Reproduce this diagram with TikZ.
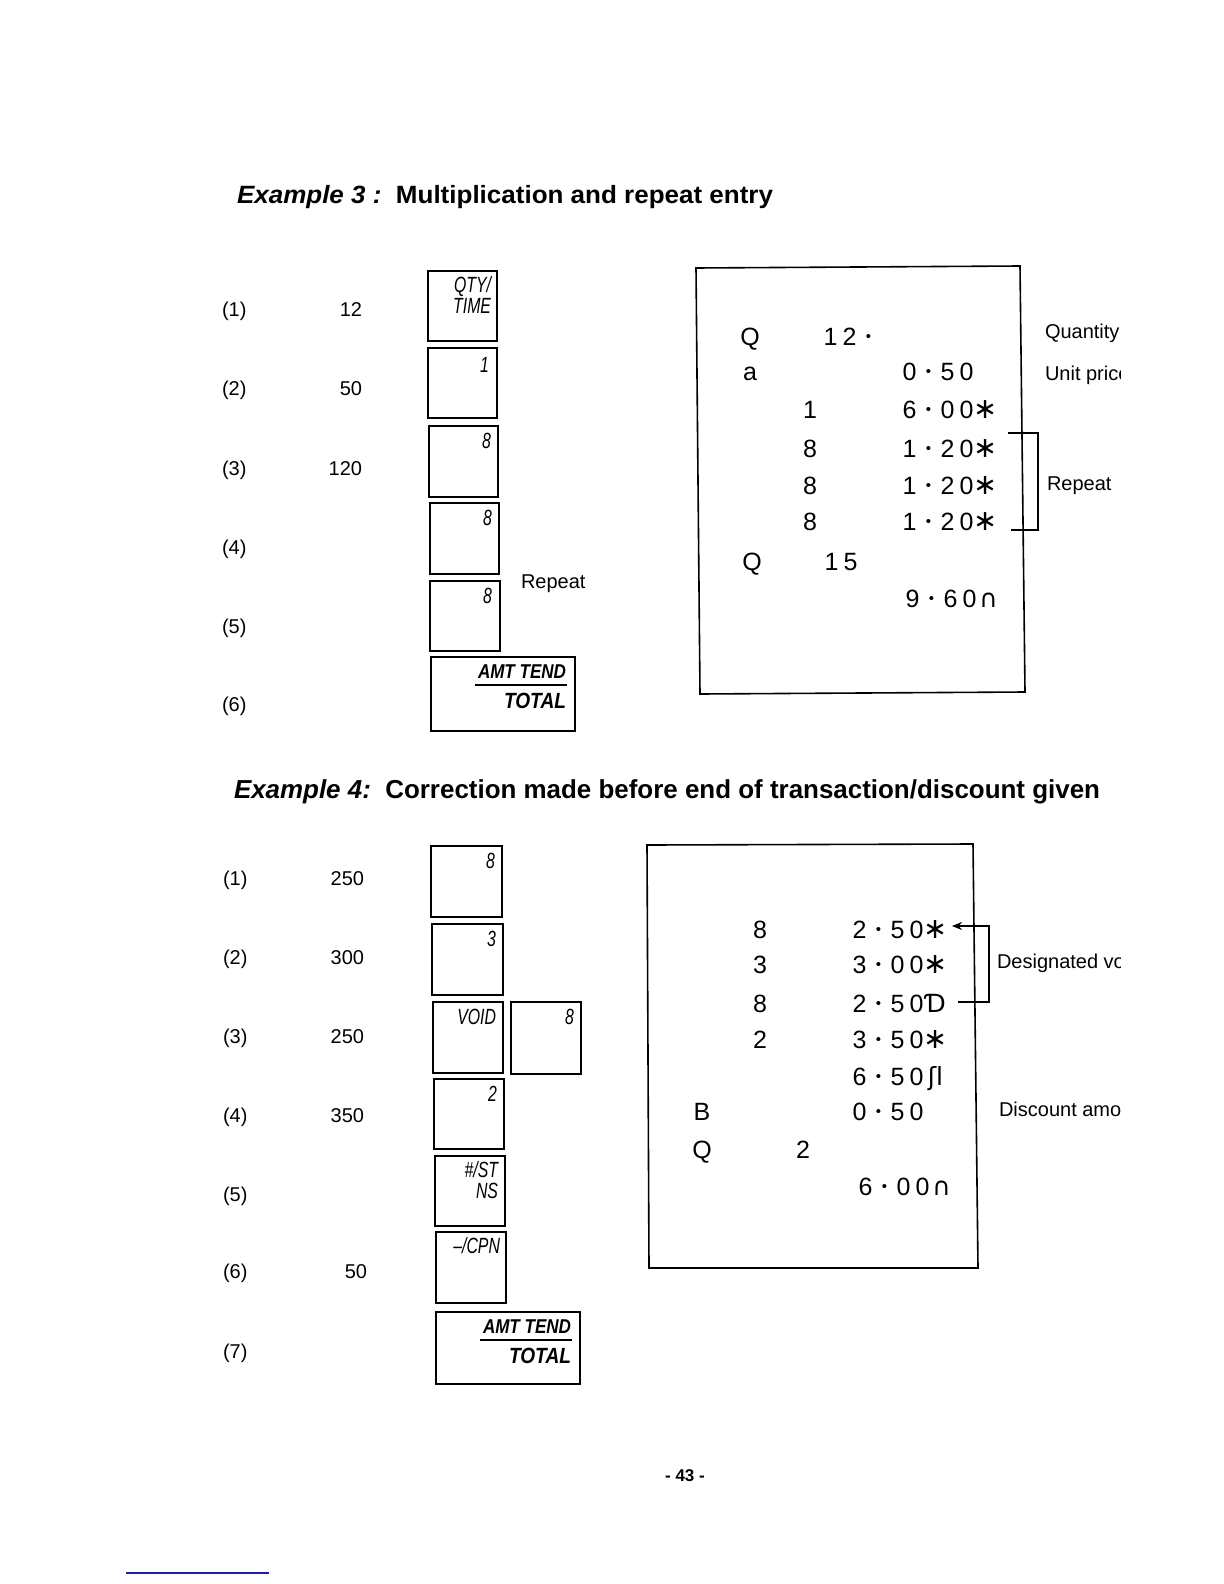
\documentclass[tikz,border=0pt]{standalone}
\usepackage{fontspec}
\setmainfont{Liberation Sans}
\newfontfamily\symf{DejaVu Sans}
\usetikzlibrary{arrows.meta}
\definecolor{lnk}{RGB}{30,30,160}
\def\rcloop#1{\ifx#1\relax\else\hbox to 9.5pt{\hss#1\hss}\expandafter\rcloop\fi}
\newcommand\rcs[1]{\rcloop#1\relax}
\newcommand\rdot{\raisebox{0.16em}{\scalebox{0.6}{•}}}
\newcommand\rast{{\symf\scalebox{1.15}{∗}}}
\newcommand\rtot{{\symf ∩}}
\newcommand\rvoid{{\symf Ɗ}}
\newcommand\rsub{{\symf ʃl}}
\newcommand\kt[1]{\scalebox{0.72}[1]{#1}}
\begin{document}
\begin{tikzpicture}[x=0.5pt,y=-0.5pt,
  every node/.style={inner sep=0pt, outer sep=0pt},
  keybox/.style={line width=1pt},
  rowlab/.style={font=\fontsize{10}{12}\selectfont, anchor=base west},
  num/.style={font=\fontsize{10}{12}\selectfont, anchor=base east},
  kl/.style={font=\fontsize{11}{13}\selectfont\itshape, anchor=base east},
  rc/.style={font=\fontsize{12.5}{15}\selectfont, anchor=base west},
  rcone/.style={font=\fontsize{12.5}{15}\selectfont, anchor=base},
  note/.style={font=\fontsize{10}{12}\selectfont, anchor=base west},
  paper/.style={line width=0.8pt},
  brk/.style={line width=0.6pt}]
\useasboundingbox (0,0) rectangle (1224,1584);

% ---------------- Example 3 ----------------
\node[anchor=base west] (h3) at (237,203) {\resizebox{268pt}{\height}{\fontsize{12.5}{15}\selectfont\bfseries\itshape Example 3 :\ \ \upshape Multiplication and repeat entry}};

\node[rowlab] (a1) at (222,316) {(1)};
\node[rowlab] (a2) at (222,395) {(2)};
\node[rowlab] (a3) at (222,475) {(3)};
\node[rowlab] (a4) at (222,554) {(4)};
\node[rowlab] (a5) at (222,633) {(5)};
\node[rowlab] (a6) at (222,711) {(6)};
\node[num] (n1) at (362,316) {12};
\node[num] (n2) at (362,395) {50};
\node[num] (n3) at (362,475) {120};

\draw[keybox] (428,271) rectangle (497,341);
\draw[keybox] (428,348) rectangle (497,418);
\draw[keybox] (429,426) rectangle (498,497);
\draw[keybox] (430,503) rectangle (499,574);
\draw[keybox] (430,581) rectangle (500,651);
\draw[keybox] (431,657) rectangle (575,731);
\node[kl] (k1a) at (491,292) {\kt{QTY/}};
\node[kl] (k1b) at (491,313) {\kt{TIME}};
\node[kl] (k2) at (489,372) {\kt{1}};
\node[kl] (k3) at (491,448) {\kt{8}};
\node[kl] (k4) at (492,525) {\kt{8}};
\node[kl] (k5) at (492,603) {\kt{8}};
\node[anchor=base east] (k6a) at (566,678) {\resizebox{44pt}{\height}{\fontsize{10}{12}\selectfont\bfseries\itshape AMT TEND}};
\draw[line width=0.8pt] (475,685) -- (567,685);
\node[anchor=base east] (k6b) at (566,708) {\resizebox{31pt}{\height}{\fontsize{11}{13}\selectfont\bfseries\itshape TOTAL}};
\node[note] (rep) at (521,588) {Repeat};

% receipt 3
\draw[paper] (696,268) -- (1020,266) -- (1025,692) -- (700,694) -- cycle;
\node[rcone] (r1a) at (750,345) {Q};
\node[rc] (r1b) at (821,345) {\rcs{12\rdot}};
\node[rcone] (r2a) at (750,380) {a};
\node[rc] (r2b) at (900,380) {\rcs{0\rdot50}};
\node[rcone] (r3a) at (810,418) {1};
\node[rc] (r3b) at (900,418) {\rcs{6\rdot00\rast}};
\node[rcone] (r4a) at (810,457) {8};
\node[rc] (r4b) at (900,457) {\rcs{1\rdot20\rast}};
\node[rcone] (r5a) at (810,494) {8};
\node[rc] (r5b) at (900,494) {\rcs{1\rdot20\rast}};
\node[rcone] (r6a) at (810,530) {8};
\node[rc] (r6b) at (900,530) {\rcs{1\rdot20\rast}};
\node[rcone] (r7a) at (752,570) {Q};
\node[rc] (r7b) at (822,570) {\rcs{15}};
\node[rc] (r8b) at (903,607) {\rcs{9\rdot60\rtot}};

\coordinate (b3a) at (1008,433);
\coordinate (b3b) at (1011,530);
\draw[brk] (b3a) -| (1038,530) -- (b3b);

\begin{scope}
\clip (990,250) rectangle (1120,1250);
\node[note] (q3) at (1045,338) {Quantity};
\node[note] (u3) at (1045,380) {Unit price};
\node[note] (p3) at (1047,490) {Repeat};
\node[note] (d4) at (997,968) {Designated void};
\node[note] (c4) at (999,1116) {Discount amount};
\end{scope}

% ---------------- Example 4 ----------------
\node[anchor=base west] (h4) at (234,798) {\resizebox{433pt}{\height}{\fontsize{13}{15}\selectfont\bfseries\itshape Example 4:\ \ \upshape Correction made before end of transaction/discount given}};

\node[rowlab] (b1) at (223,885) {(1)};
\node[rowlab] (b2) at (223,964) {(2)};
\node[rowlab] (b3) at (223,1043) {(3)};
\node[rowlab] (b4) at (223,1122) {(4)};
\node[rowlab] (b5) at (223,1201) {(5)};
\node[rowlab] (b6) at (223,1278) {(6)};
\node[rowlab] (b7) at (223,1358) {(7)};
\node[num] (m1) at (364,885) {250};
\node[num] (m2) at (364,964) {300};
\node[num] (m3) at (364,1043) {250};
\node[num] (m4) at (364,1122) {350};
\node[num] (m6) at (367,1278) {50};

\draw[keybox] (431,846) rectangle (502,917);
\draw[keybox] (432,924) rectangle (503,995);
\draw[keybox] (433,1002) rectangle (503,1073);
\draw[keybox] (511,1002) rectangle (581,1074);
\draw[keybox] (434,1079) rectangle (504,1149);
\draw[keybox] (435,1156) rectangle (505,1226);
\draw[keybox] (436,1232) rectangle (506,1303);
\draw[keybox] (436,1312) rectangle (580,1384);
\node[kl] (j1) at (495,868) {\kt{8}};
\node[kl] (j2) at (496,946) {\kt{3}};
\node[kl] (j3) at (496,1024) {\kt{VOID}};
\node[kl] (j3b) at (574,1024) {\kt{8}};
\node[kl] (j4) at (497,1101) {\kt{2}};
\node[kl] (j5a) at (498,1177) {\kt{\#/ST}};
\node[kl] (j5b) at (498,1198) {\kt{NS}};
\node[kl] (j6) at (500,1253) {\kt{–/CPN}};
\node[anchor=base east] (j7a) at (571,1333) {\resizebox{44pt}{\height}{\fontsize{10}{12}\selectfont\bfseries\itshape AMT TEND}};
\draw[line width=0.8pt] (480,1340) -- (572,1340);
\node[anchor=base east] (j7b) at (571,1363) {\resizebox{31pt}{\height}{\fontsize{11}{13}\selectfont\bfseries\itshape TOTAL}};

% receipt 4
\draw[paper] (647,845) -- (973,844) -- (978,1268) -- (649,1268) -- cycle;
\node[rcone] (s1a) at (760,938) {8};
\node[rc] (s1b) at (850,938) {\rcs{2\rdot50\rast}};
\node[rcone] (s2a) at (760,973) {3};
\node[rc] (s2b) at (850,973) {\rcs{3\rdot00\rast}};
\node[rcone] (s3a) at (760,1012) {8};
\node[rc] (s3b) at (850,1012) {\rcs{2\rdot50\rvoid}};
\node[rcone] (s4a) at (760,1048) {2};
\node[rc] (s4b) at (850,1048) {\rcs{3\rdot50\rast}};
\node[rc] (s5b) at (850,1085) {\rcs{6\rdot50\rsub}};
\node[rcone] (s6a) at (702,1120) {B};
\node[rc] (s6b) at (850,1120) {\rcs{0\rdot50}};
\node[rcone] (s7a) at (702,1158) {Q};
\node[rcone] (s7b) at (803,1158) {2};
\node[rc] (s8b) at (856,1195) {\rcs{6\rdot00\rtot}};

\coordinate (v4a) at (952,926);
\coordinate (v4b) at (958,1002);
\draw[brk, {Stealth[length=5pt,width=4pt]}-] (v4a) -| (989,1002) -- (v4b);

% footer
\node[anchor=base] (pg) at (685,1481) {\fontsize{8.5}{10}\selectfont\bfseries - 43 -};
\draw[lnk, line width=0.6pt] (126,1573) -- (269,1573);
\end{tikzpicture}
\end{document}
